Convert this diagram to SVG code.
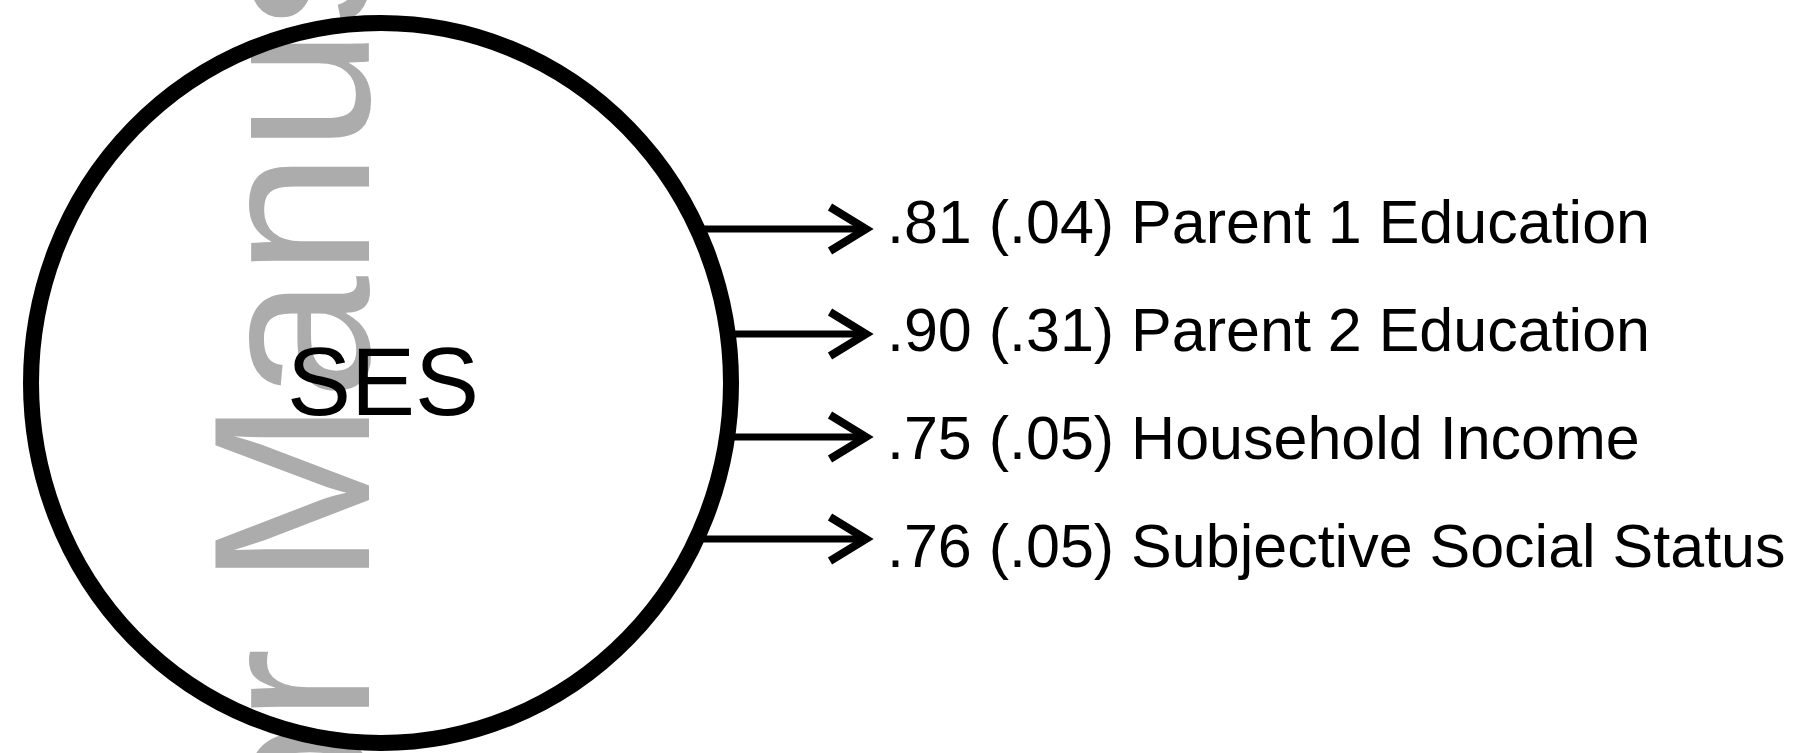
<svg xmlns="http://www.w3.org/2000/svg" width="1803" height="753" viewBox="0 0 1803 753">
  <style>
    .wm { font-family: "Liberation Sans", Arial, sans-serif; font-size: 223px; fill: #acacac; }
    .lbl { font-family: "Liberation Sans", Arial, sans-serif; font-size: 61px; fill: #000; }
    .ses { font-family: "Liberation Sans", Arial, sans-serif; font-size: 96px; fill: #000; }
    .conn { stroke: #000; stroke-width: 7; fill: none; marker-end: url(#head); }
  </style>
  <defs>
    <marker id="head" markerUnits="userSpaceOnUse" viewBox="-50 -30 60 60" markerWidth="60" markerHeight="60" refX="0" refY="0" orient="auto" overflow="visible">
      <path d="M-36,-22 L0,0 L-36,22" fill="none" stroke="#000" stroke-width="8" stroke-linejoin="miter" stroke-miterlimit="10"/>
    </marker>
  </defs>
  <rect width="1803" height="753" fill="#fff"/>
  <text class="wm" transform="translate(369,1305) rotate(-90)">Author Manuscript</text>
  <g id="node-ses">
    <ellipse cx="381" cy="383" rx="350" ry="360" fill="none" stroke="#000" stroke-width="16"/>
    <text class="ses" x="383" y="415" text-anchor="middle">SES</text>
  </g>
  <g id="connectors">
    <line class="conn" x1="698" y1="229" x2="866" y2="229"/>
    <line class="conn" x1="726" y1="334" x2="866" y2="334"/>
    <line class="conn" x1="726" y1="437" x2="866" y2="437"/>
    <line class="conn" x1="696" y1="539" x2="866" y2="539"/>
  </g>
  <g id="node-parent1"><text class="lbl" x="887" y="243">.81 (.04) Parent 1 Education</text></g>
  <g id="node-parent2"><text class="lbl" x="887" y="351">.90 (.31) Parent 2 Education</text></g>
  <g id="node-income"><text class="lbl" x="887" y="459">.75 (.05) Household Income</text></g>
  <g id="node-sss"><text class="lbl" x="887" y="567">.76 (.05) Subjective Social Status</text></g>
</svg>
